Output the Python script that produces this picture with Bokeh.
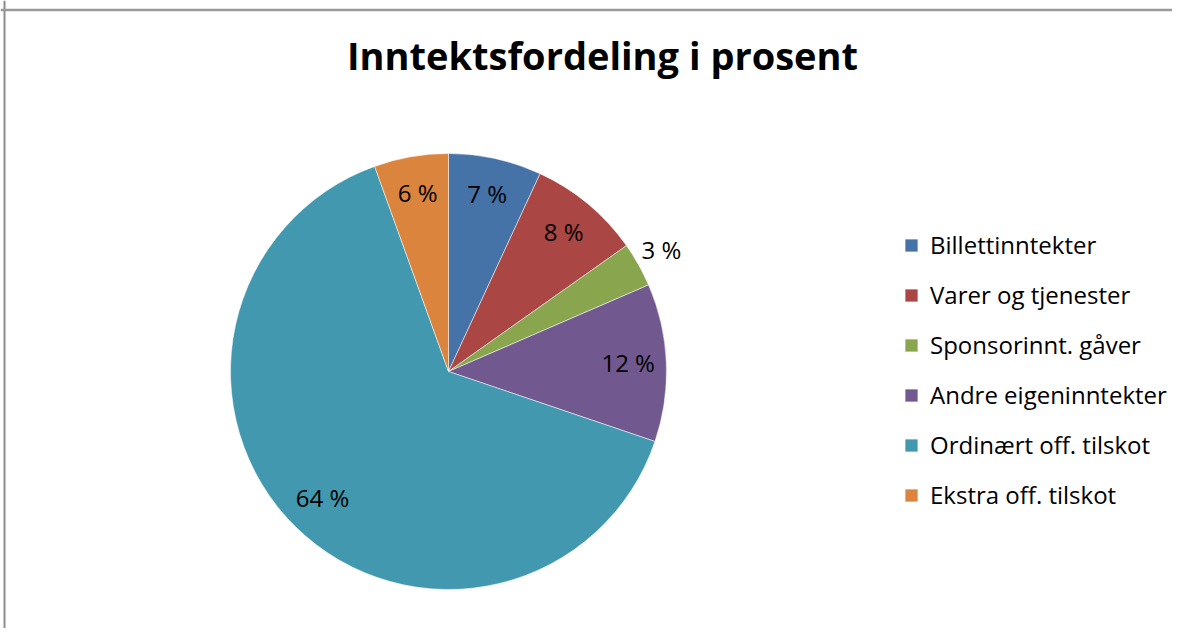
import math
from bokeh.plotting import figure
from bokeh.models import ColumnDataSource, Range1d, Span
from bokeh.embed import file_html
from bokeh.resources import INLINE
from bokeh.core.properties import value

title_text = "Inntektsfordeling i prosent"
categories = ["Billettinntekter", "Varer og tjenester", "Sponsorinnt. gåver",
              "Andre eigeninntekter", "Ordinært off. tilskot", "Ekstra off. tilskot"]
values = [6.9, 8.3, 3.3, 11.7, 64.3, 5.5]
colors = ["#4572A7", "#AA4643", "#89A54E", "#71588F", "#4198AF", "#DB843D"]

FONT = "Open Sans"
W, H = 1172, 628
CX, CY, R = 448, H - 371, 218
LABEL_PX = 24
NUDGE = 2

p = figure(width=W, height=H, x_range=Range1d(0, W), y_range=Range1d(0, H),
           output_backend="svg", toolbar_location=None, min_border=0,
           x_axis_location=None, y_axis_location=None, outline_line_color=None)
p.xgrid.visible = False
p.ygrid.visible = False

total = sum(values)
starts, ends, lx, ly, labels = [], [], [], [], []
cum = 0.0
for v in values:
    a0 = math.pi / 2 - 2 * math.pi * cum / total
    cum += v
    a1 = math.pi / 2 - 2 * math.pi * cum / total
    starts.append(a0)
    ends.append(a1)
    mid = (a0 + a1) / 2
    rr = R * (1.12 if v / total < 0.05 else 0.825)
    lx.append(CX + rr * math.cos(mid))
    ly.append(CY + rr * math.sin(mid) + NUDGE)
    labels.append(f"{round(v)} %")

src = ColumnDataSource(dict(cat=categories, start=starts, end=ends, color=colors,
                            lx=lx, ly=ly, lab=labels))

p.wedge(x=CX, y=CY, radius=R, start_angle="start", end_angle="end", direction="clock",
        fill_color="color", line_color="white", line_alpha=0.5, line_width=1,
        source=src, legend_field="cat")

p.text(x="lx", y="ly", text="lab", source=src, text_font=value(FONT),
       text_font_size=f"{LABEL_PX}px", text_align="center", text_baseline="middle",
       text_color="black")

leg = p.legend[0]
leg.location = (903, 117)
leg.label_text_font = FONT
leg.label_text_font_size = "24px"
leg.label_text_color = "black"
leg.glyph_width = 16
leg.glyph_height = 16
leg.label_height = 30
leg.label_standoff = 11
leg.spacing = 17
leg.padding = 0
leg.margin = 0
leg.border_line_color = None
leg.background_fill_alpha = 0

p.text(x=[602], y=[H - 54], text=[title_text], text_font=value(FONT),
       text_font_size="38px", text_font_style="bold", text_align="center",
       text_baseline="middle", text_color="black")

p.add_layout(Span(location=4, dimension="height", line_color="#8c8c8c", line_width=2))
p.add_layout(Span(location=H - 9.5, dimension="width", line_color="#9a9a9a", line_width=2.5))

open("out.html", "w").write(file_html(p, INLINE))
